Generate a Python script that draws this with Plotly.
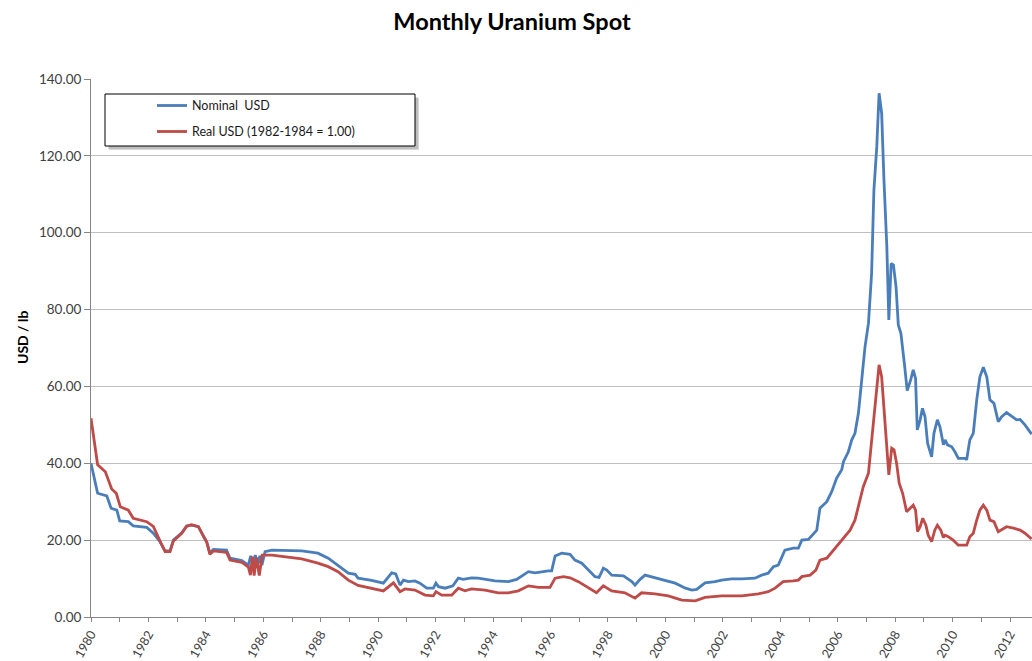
import plotly.graph_objects as go

# ---- data ----
nominal_year = [1980.00, 1980.23, 1980.55, 1980.70, 1980.90, 1981.00, 1981.30, 1981.47, 1981.94, 1982.17,
                1982.40, 1982.58, 1982.75, 1982.87, 1983.16, 1983.33, 1983.50, 1983.74, 1983.90, 1984.03,
                1984.14, 1984.26, 1984.72, 1984.84, 1985.25, 1985.48, 1985.56, 1985.64, 1985.72, 1985.80,
                1985.88, 1985.95, 1986.06, 1986.30, 1987.34, 1987.90, 1988.26, 1988.60, 1988.96, 1989.20,
                1989.30, 1989.77, 1990.18, 1990.47, 1990.61, 1990.76, 1990.88, 1991.05, 1991.28, 1991.45,
                1991.69, 1991.92, 1992.01, 1992.10, 1992.33, 1992.60, 1992.79, 1992.96, 1993.25, 1993.48,
                1993.72, 1994.07, 1994.53, 1994.82, 1995.23, 1995.46, 1995.92, 1996.04, 1996.16, 1996.39,
                1996.68, 1996.85, 1997.09, 1997.32, 1997.55, 1997.69, 1997.84, 1997.96, 1998.13, 1998.54,
                1998.83, 1998.94, 1999.12, 1999.29, 1999.64, 1999.99, 2000.34, 2000.70, 2000.92, 2001.09,
                2001.38, 2001.73, 2001.96, 2002.30, 2002.66, 2003.12, 2003.35, 2003.58, 2003.76, 2003.93,
                2004.16, 2004.45, 2004.63, 2004.75, 2004.98, 2005.27, 2005.38, 2005.62, 2005.79, 2005.96,
                2006.14, 2006.20, 2006.37, 2006.49, 2006.60, 2006.72, 2006.83, 2006.95, 2007.07, 2007.18,
                2007.26, 2007.36, 2007.44, 2007.53, 2007.61, 2007.71, 2007.78, 2007.86, 2007.94, 2008.03,
                2008.11, 2008.20, 2008.32, 2008.42, 2008.54, 2008.63, 2008.71, 2008.77, 2008.87, 2008.95,
                2009.04, 2009.13, 2009.27, 2009.35, 2009.47, 2009.56, 2009.68, 2009.74, 2009.82, 2009.97,
                2010.08, 2010.20, 2010.43, 2010.49, 2010.60, 2010.72, 2010.84, 2010.95, 2011.07, 2011.19,
                2011.30, 2011.44, 2011.59, 2011.71, 2011.88, 2012.06, 2012.23, 2012.35, 2012.52, 2012.75]
nominal_usd = [40.0, 32.2, 31.5, 28.3, 27.8, 25.0, 24.8, 23.7, 23.3, 21.8,
               19.6, 17.2, 17.2, 20.0, 21.9, 23.7, 23.9, 23.5, 21.3, 19.6,
               16.6, 17.6, 17.4, 15.3, 14.7, 13.5, 15.9, 13.5, 16.1, 13.5,
               15.9, 13.5, 17.0, 17.4, 17.2, 16.6, 15.3, 13.5, 11.4, 11.1,
               10.1, 9.5, 8.8, 11.5, 11.2, 8.3, 9.6, 9.2, 9.4, 8.8,
               7.5, 7.5, 8.8, 7.9, 7.5, 8.1, 10.1, 9.8, 10.2, 10.1,
               9.8, 9.4, 9.2, 9.8, 11.8, 11.5, 12.0, 12.0, 15.9, 16.6,
               16.3, 14.8, 14.0, 12.2, 10.5, 10.3, 12.7, 12.2, 10.9, 10.7,
               9.2, 8.3, 9.8, 10.9, 10.2, 9.6, 8.8, 7.5, 7.0, 7.2,
               8.9, 9.2, 9.6, 9.9, 9.9, 10.1, 10.9, 11.4, 13.1, 13.5,
               17.4, 17.9, 17.9, 20.0, 20.2, 22.6, 28.3, 30.0, 32.6, 36.1,
               38.3, 40.4, 43.0, 46.1, 47.8, 53.0, 61.7, 70.3, 76.4, 89.4,
               111.1, 122.4, 136.3, 131.1, 113.7, 96.4, 77.3, 92.0, 91.6, 86.0,
               76.0, 73.8, 66.0, 58.9, 61.7, 64.3, 62.1, 48.7, 51.3, 54.3,
               52.1, 45.2, 41.7, 47.8, 51.3, 49.5, 44.8, 46.1, 44.8, 44.3,
               43.0, 41.3, 41.3, 40.9, 46.1, 47.8, 56.5, 62.5, 65.0, 62.5,
               56.5, 55.6, 50.8, 52.1, 53.2, 52.1, 51.3, 51.4, 50.0, 47.6]

real_year = [1980.00, 1980.23, 1980.50, 1980.72, 1980.88, 1981.02, 1981.30, 1981.47, 1981.94, 1982.17,
             1982.40, 1982.58, 1982.75, 1982.87, 1983.16, 1983.33, 1983.50, 1983.74, 1983.90, 1984.03,
             1984.14, 1984.26, 1984.72, 1984.84, 1985.25, 1985.48, 1985.55, 1985.62, 1985.68, 1985.76,
             1985.86, 1985.96, 1986.30, 1987.34, 1987.90, 1988.26, 1988.60, 1988.96, 1989.30, 1989.77,
             1990.18, 1990.53, 1990.76, 1990.93, 1991.28, 1991.63, 1991.92, 1992.01, 1992.21, 1992.56,
             1992.79, 1993.02, 1993.25, 1993.72, 1994.18, 1994.53, 1994.88, 1995.23, 1995.58, 1995.98,
             1996.16, 1996.45, 1996.68, 1996.97, 1997.32, 1997.60, 1997.84, 1998.13, 1998.59, 1998.94,
             1999.17, 1999.64, 2000.10, 2000.57, 2001.04, 2001.38, 2001.96, 2002.66, 2003.23, 2003.58,
             2003.82, 2004.10, 2004.45, 2004.63, 2004.75, 2005.04, 2005.24, 2005.38, 2005.62, 2005.85,
             2006.08, 2006.25, 2006.43, 2006.60, 2006.72, 2006.89, 2007.07, 2007.18, 2007.30, 2007.44,
             2007.53, 2007.65, 2007.78, 2007.88, 2007.96, 2008.05, 2008.14, 2008.26, 2008.40, 2008.52,
             2008.63, 2008.71, 2008.78, 2008.87, 2008.96, 2009.07, 2009.15, 2009.27, 2009.38, 2009.47,
             2009.59, 2009.68, 2009.74, 2009.85, 2010.02, 2010.20, 2010.49, 2010.60, 2010.72, 2010.84,
             2010.95, 2011.07, 2011.19, 2011.30, 2011.44, 2011.59, 2011.76, 2011.88, 2012.12, 2012.35,
             2012.52, 2012.75]
real_usd = [51.7, 39.6, 37.8, 33.3, 32.2, 28.7, 27.8, 25.7, 24.8, 23.6,
            19.8, 17.0, 17.0, 19.8, 21.8, 23.6, 24.0, 23.5, 21.2, 19.4,
            16.3, 17.2, 16.8, 14.8, 14.2, 13.0, 10.9, 15.7, 10.8, 15.5,
            10.8, 16.1, 16.1, 15.1, 14.0, 13.1, 11.8, 9.6, 8.2, 7.5,
            6.8, 8.9, 6.6, 7.3, 7.0, 5.7, 5.5, 6.6, 5.7, 5.7,
            7.5, 6.8, 7.3, 7.0, 6.3, 6.3, 6.8, 8.1, 7.7, 7.7,
            10.1, 10.5, 10.2, 9.2, 7.5, 6.3, 8.1, 6.8, 6.3, 4.9,
            6.3, 6.0, 5.5, 4.4, 4.2, 5.1, 5.5, 5.5, 6.0, 6.6,
            7.5, 9.2, 9.4, 9.6, 10.5, 10.9, 12.2, 14.8, 15.3, 17.4,
            19.6, 20.9, 22.6, 25.2, 28.7, 33.9, 37.4, 46.1, 56.5, 65.6,
            62.5, 51.3, 37.0, 43.9, 43.5, 40.0, 34.8, 32.2, 27.4, 28.3,
            29.1, 27.8, 22.2, 23.5, 25.7, 23.9, 21.3, 19.6, 22.6, 23.9,
            22.6, 20.7, 21.3, 20.9, 20.0, 18.7, 18.7, 20.9, 21.8, 25.2,
            27.8, 29.1, 27.8, 25.2, 24.8, 22.2, 23.1, 23.5, 23.1, 22.6,
            21.8, 20.3]

tick_years = list(range(1980, 2013))
tick_labels = [str(y) if y % 2 == 0 else "" for y in tick_years]
y_ticks = [0, 20, 40, 60, 80, 100, 120, 140]
y_tick_labels = [f"{v:.2f}" for v in y_ticks]

series_names = ["Nominal  USD", "Real USD (1982-1984 = 1.00)"]
BLUE = "#4A7EBB"
RED = "#BE4B48"
FONT = "Lato, 'Open Sans', sans-serif"

# ---- layout geometry (pixels) ----
W, H = 1032, 661
L, R, T, B = 91, 0, 79, 44
PW, PH = W - L - R, H - T - B


def px(x):
    return (x - L) / PW


def py(y):
    return (H - B - y) / PH


fig = go.Figure()
fig.add_trace(go.Scatter(x=nominal_year, y=nominal_usd, mode="lines", name=series_names[0],
                         line=dict(color=BLUE, width=2.8), showlegend=False))
fig.add_trace(go.Scatter(x=real_year, y=real_usd, mode="lines", name=series_names[1],
                         line=dict(color=RED, width=2.8), showlegend=False))

shapes = []
# legend shadow + box
shapes.append(dict(type="rect", xref="paper", yref="paper", x0=px(109), x1=px(419), y0=py(98), y1=py(150),
                   line=dict(width=0), fillcolor="rgba(0,0,0,0.15)", layer="above"))
shapes.append(dict(type="rect", xref="paper", yref="paper", x0=px(108), x1=px(418), y0=py(97), y1=py(149),
                   line=dict(width=0), fillcolor="rgba(0,0,0,0.12)", layer="above"))
shapes.append(dict(type="rect", xref="paper", yref="paper", x0=px(105), x1=px(415), y0=py(94), y1=py(146),
                   line=dict(color="#000000", width=1), fillcolor="#FFFFFF", layer="above"))
for yy, col in [(105.5, BLUE), (131.5, RED)]:
    shapes.append(dict(type="line", xref="paper", yref="paper", x0=px(157), x1=px(187), y0=py(yy), y1=py(yy),
                       line=dict(color=col, width=2.8), layer="above"))

annotations = []
for yy, name in [(105.5, series_names[0]), (131.5, series_names[1])]:
    annotations.append(dict(xref="paper", yref="paper", x=px(190), y=py(yy), text=name, showarrow=False,
                            xanchor="left", yanchor="middle", font=dict(family=FONT, size=12.5, color="#1a1a1a")))
annotations.append(dict(xref="paper", yref="paper", x=px(22), y=py(337), text="<b>USD / lb</b>", showarrow=False,
                        textangle=-90, xanchor="center", yanchor="middle",
                        font=dict(family=FONT, size=14, color="#000000")))

fig.update_layout(
    width=W, height=H,
    margin=dict(l=L, r=R, t=T, b=B, pad=0, autoexpand=False),
    paper_bgcolor="#FFFFFF", plot_bgcolor="#FFFFFF",
    title=dict(text="<b>Monthly Uranium Spot</b>", x=512 / W, xref="container", xanchor="center",
               y=1 - 22 / H, yref="container", yanchor="middle",
               font=dict(family=FONT, size=23.5, color="#000000")),
    shapes=shapes, annotations=annotations,
    showlegend=False,
)
fig.update_xaxes(range=[1980, 1980 + (W - L) / 28.72], tickmode="array", tickvals=tick_years,
                 ticktext=tick_labels, tickangle=-60, ticks="outside", ticklen=4, tickcolor="#868686",
                 showline=True, linecolor="#868686", linewidth=1, showgrid=False, zeroline=False,
                 automargin=False, tickfont=dict(family=FONT, size=12.5, color="#404040"))
fig.update_yaxes(range=[0, 140], tickmode="array", tickvals=y_ticks, ticktext=y_tick_labels,
                 ticks="outside", ticklen=6, tickcolor="#868686", showline=True, linecolor="#868686",
                 linewidth=1, showgrid=True, gridcolor="#BFBFBF", gridwidth=1.3, zeroline=False,
                 automargin=False, tickfont=dict(family=FONT, size=13.5, color="#404040"))

fig.write_html("out.html", config={"displayModeBar": False},
               post_script="document.body.style.margin='0';document.body.style.overflow='hidden';")
